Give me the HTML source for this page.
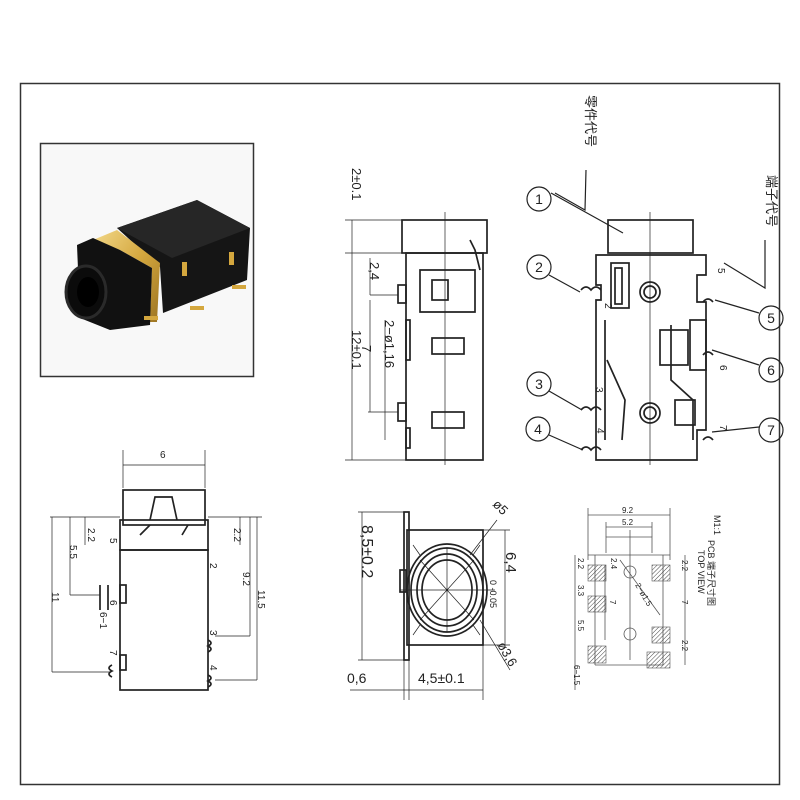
<!DOCTYPE html>
<html><head><meta charset="utf-8"><style>
html,body{margin:0;padding:0;background:#fff;}
svg{display:block;}
text{font-family:"Liberation Sans","Noto Sans CJK SC",sans-serif;fill:#222;}
</style></head><body>
<svg width="800" height="800" viewBox="0 0 800 800" xmlns="http://www.w3.org/2000/svg">
<defs>
<pattern id="h" width="3" height="3" patternUnits="userSpaceOnUse" patternTransform="rotate(45)"><line x1="0" y1="0" x2="0" y2="3" stroke="#444" stroke-width="1"/></pattern>
<linearGradient id="gold" x1="0" y1="0" x2="1" y2="1"><stop offset="0" stop-color="#f3d98a"/><stop offset="0.5" stop-color="#d4a73e"/><stop offset="1" stop-color="#9c7422"/></linearGradient>
</defs>
<rect x="20.5" y="83.5" width="759" height="701" fill="none" stroke="#333" stroke-width="1.5"/>
<rect x="40.5" y="143.5" width="213" height="233" fill="#f8f8f8" stroke="#333" stroke-width="1.5"/>
<polygon points="117,228 197,200 250,228 247,280 163,313 160,267" fill="#151515"/>
<polygon points="117,228 197,200 250,228 172,258" fill="#262626"/>
<polygon points="93,240 117,230 160,263 157,322 150,322 152,268 120,250" fill="url(#gold)"/>
<polygon points="77,245 93,238 120,250 152,268 150,325 110,330 80,318" fill="#111"/>
<ellipse cx="86" cy="292" rx="20" ry="26" fill="#0b0b0b" stroke="#2a2a2a" stroke-width="3"/>
<ellipse cx="88" cy="292" rx="11" ry="15" fill="#000"/>
<rect x="182" y="262" width="5" height="14" fill="#d4a73e"/>
<rect x="229" y="252" width="5" height="13" fill="#d4a73e"/>
<rect x="144" y="316" width="14" height="4" fill="#d4a73e"/>
<rect x="190" y="306" width="14" height="4" fill="#d4a73e"/>
<rect x="232" y="285" width="14" height="4" fill="#d4a73e"/>
<g fill="none" stroke="#222" stroke-width="1.7">
<rect x="402" y="220" width="85" height="33"/>
<rect x="406" y="253" width="77" height="207"/>
<path d="M420 270 H475 V312 H420 Z"/>
<rect x="432" y="280" width="16" height="20"/>
<rect x="432" y="338" width="32" height="16"/>
<rect x="432" y="412" width="32" height="16"/>
<rect x="398" y="285" width="8" height="18"/>
<rect x="398" y="403" width="8" height="18"/>
<rect x="406" y="320" width="4" height="40"/>
<rect x="406" y="428" width="4" height="20"/>
<path d="M470 240 L475 250 L480 270"/>
<line x1="445" y1="212" x2="445" y2="465" stroke-width="0.7"/>
<line x1="345" y1="220" x2="402" y2="220" stroke-width="0.7"/>
<line x1="345" y1="253" x2="402" y2="253" stroke-width="0.7"/>
<line x1="345" y1="460" x2="406" y2="460" stroke-width="0.7"/>
<line x1="352" y1="220" x2="352" y2="460" stroke-width="0.7"/>
<line x1="370" y1="258" x2="370" y2="295" stroke-width="0.7"/>
<line x1="370" y1="295" x2="398" y2="295" stroke-width="0.7"/>
<line x1="370" y1="300" x2="370" y2="412" stroke-width="0.7"/>
<line x1="368" y1="412" x2="398" y2="412" stroke-width="0.7"/>
<line x1="385" y1="320" x2="385" y2="440" stroke-width="0.7"/>
<rect x="608" y="220" width="85" height="33"/>
<path d="M596 255 H706 V275 H697 V302 H706 V430 H697 V460 H596 V300 H601 V285 H596 Z"/>
<rect x="611" y="263" width="18" height="45"/>
<rect x="615" y="268" width="7" height="36"/>
<circle cx="650" cy="292" r="10"/><circle cx="650" cy="292" r="6"/>
<circle cx="650" cy="413" r="10"/><circle cx="650" cy="413" r="6"/>
<rect x="660" y="330" width="28" height="35"/>
<rect x="690" y="320" width="16" height="50"/>
<path d="M605 320 V440 M607 360 L625 400 L622 440 M671 325 V380 L693 400 V440"/>
<rect x="675" y="400" width="20" height="25"/>
<line x1="650" y1="212" x2="650" y2="465" stroke-width="0.7"/>
<path d="M581 290 q5 -6 10 0 q5 -6 10 0 M581 410 q5 -6 10 0 q5 -6 10 0 M581 450 q5 -6 10 0 q5 -6 10 0 M703 302 q5 -6 10 0 M703 355 q5 -6 10 0 M703 440 q5 -6 10 0"/>
<g stroke-width="1.2">
<circle cx="539" cy="199" r="12"/><circle cx="539" cy="267" r="12"/><circle cx="539" cy="384" r="12"/><circle cx="538" cy="429" r="12"/>
<circle cx="771" cy="318" r="12"/><circle cx="771" cy="370" r="12"/><circle cx="771" cy="430" r="12"/>
<path d="M551 193 L623 233 M555 193 L585 210 L586 170 M549 275 L580 292 M549 391 L582 410 M549 435 L583 450 M759 313 L715 300 M759 365 L712 350 M759 427 L712 432 M724 263 L765 288 V240"/>
</g>
<rect x="123" y="490" width="82" height="35"/>
<rect x="120" y="520" width="88" height="30"/>
<rect x="120" y="550" width="88" height="140"/>
<path d="M150 520 L155 497 H172 L177 520 M140 535 L150 525 M188 525 L182 535"/>
<line x1="123" y1="450" x2="123" y2="488" stroke-width="0.7"/>
<line x1="205" y1="450" x2="205" y2="488" stroke-width="0.7"/>
<line x1="123" y1="465" x2="205" y2="465" stroke-width="0.7"/>
<line x1="50" y1="517" x2="120" y2="517" stroke-width="0.7"/>
<line x1="208" y1="517" x2="262" y2="517" stroke-width="0.7"/>
<line x1="52" y1="517" x2="52" y2="672" stroke-width="0.7"/>
<line x1="70" y1="517" x2="70" y2="595" stroke-width="0.7"/>
<line x1="85" y1="517" x2="85" y2="545" stroke-width="0.7"/>
<line x1="240" y1="517" x2="240" y2="545" stroke-width="0.7"/>
<line x1="250" y1="517" x2="250" y2="636" stroke-width="0.7"/>
<line x1="257" y1="517" x2="257" y2="680" stroke-width="0.7"/>
<line x1="52" y1="672" x2="110" y2="672" stroke-width="0.7"/>
<line x1="70" y1="595" x2="100" y2="595" stroke-width="0.7"/>
<line x1="215" y1="636" x2="250" y2="636" stroke-width="0.7"/>
<line x1="215" y1="680" x2="257" y2="680" stroke-width="0.7"/>
<rect x="120" y="585" width="6" height="18"/>
<rect x="120" y="655" width="6" height="15"/>
<path d="M100 585 V610 M108 585 V610 M208 640 q6 3 0 6 q6 3 0 6 M208 675 q6 3 0 6 q6 3 0 6 M112 665 q-6 3 0 6 q-6 3 0 6"/>
<rect x="407" y="530" width="76" height="115"/>
<rect x="404" y="512" width="5" height="148"/>
<rect x="400" y="570" width="6" height="22"/>
<ellipse cx="447" cy="590" rx="40" ry="46"/>
<ellipse cx="447" cy="590" rx="36" ry="42"/>
<ellipse cx="447" cy="590" rx="30" ry="36"/>
<ellipse cx="447" cy="590" rx="25" ry="30"/>
<path d="M420 560 L474 620 M474 560 L420 620 M447 548 V632 M400 590 H495 M413 545 L420 555 M480 545 L473 555 M413 635 L420 625 M480 635 L473 625" stroke-width="0.7"/>
<line x1="358" y1="512" x2="404" y2="512" stroke-width="0.7"/>
<line x1="358" y1="660" x2="404" y2="660" stroke-width="0.7"/>
<line x1="362" y1="512" x2="362" y2="660" stroke-width="0.7"/>
<line x1="483" y1="530" x2="510" y2="530" stroke-width="0.7"/>
<line x1="483" y1="645" x2="510" y2="645" stroke-width="0.7"/>
<line x1="505" y1="530" x2="505" y2="645" stroke-width="0.7"/>
<line x1="404" y1="660" x2="404" y2="700" stroke-width="0.7"/>
<line x1="409" y1="660" x2="409" y2="700" stroke-width="0.7"/>
<line x1="483" y1="645" x2="483" y2="700" stroke-width="0.7"/>
<line x1="350" y1="690" x2="483" y2="690" stroke-width="0.7"/>
<path d="M470 555 L497 520 M480 620 L510 670" stroke-width="0.7"/>
<g stroke="#555" stroke-width="0.8">
<line x1="588" y1="508" x2="588" y2="560"/><line x1="670" y1="508" x2="670" y2="560"/>
<line x1="588" y1="515" x2="670" y2="515"/>
<line x1="606" y1="522" x2="606" y2="537"/><line x1="652" y1="522" x2="652" y2="537"/>
<line x1="606" y1="527" x2="652" y2="527"/>
<path d="M606 553 V537 H652 V553"/>
<path d="M588 555 H670 M595 555 V665 M663 555 V665 M595 665 H663"/>
<circle cx="630" cy="572" r="6"/><circle cx="630" cy="634" r="6"/>
<line x1="630" y1="530" x2="630" y2="660"/>
<path d="M575 555 V690 M605 565 V640 M685 555 V665 M620 560 L660 615"/>
</g>
</g>
<g stroke="#555" stroke-width="0.6" fill="url(#h)">
<rect x="588" y="565" width="18" height="16"/>
<rect x="588" y="596" width="18" height="16"/>
<rect x="588" y="646" width="18" height="17"/>
<rect x="652" y="565" width="18" height="16"/>
<rect x="652" y="627" width="18" height="16"/>
<rect x="647" y="652" width="23" height="16"/>
</g>
<g font-size="13">
<text transform="translate(352,168) rotate(90)">2±0.1</text>
<text transform="translate(370,262) rotate(90)">2,4</text>
<text transform="translate(352,330) rotate(90)">12±0.1</text>
<text transform="translate(362,345) rotate(90)">7</text>
<text transform="translate(385,320) rotate(90)">2−ø1,16</text>
<text transform="translate(362,525) rotate(90)" font-size="16">8,5±0.2</text>
<text transform="translate(506,552) rotate(90)" font-size="15">6,4</text>
<text transform="translate(490,580) rotate(90)" font-size="9">0 -0.05</text>
<text transform="translate(492,505) rotate(45)" font-size="13">ø5</text>
<text transform="translate(497,645) rotate(60)" font-size="13">ø3,6</text>
<text x="347" y="683" font-size="14">0,6</text>
<text x="418" y="683" font-size="14">4,5±0.1</text>
</g>
<g font-size="14" font-family="Liberation Serif,serif">
<text x="539" y="204" text-anchor="middle">1</text><text x="539" y="272" text-anchor="middle">2</text>
<text x="539" y="389" text-anchor="middle">3</text><text x="538" y="434" text-anchor="middle">4</text>
<text x="771" y="323" text-anchor="middle">5</text><text x="771" y="375" text-anchor="middle">6</text>
<text x="771" y="435" text-anchor="middle">7</text>
</g>
<g font-size="10">
<text transform="translate(605,303) rotate(90)">2</text>
<text transform="translate(596,387) rotate(90)">3</text>
<text transform="translate(597,428) rotate(90)">4</text>
<text transform="translate(718,268) rotate(90)">5</text>
<text transform="translate(720,365) rotate(90)">6</text>
<text transform="translate(720,425) rotate(90)">7</text>
<text x="160" y="458">6</text>
<text transform="translate(88,528) rotate(90)">2.2</text>
<text transform="translate(70,545) rotate(90)">5.5</text>
<text transform="translate(52,592) rotate(90)">11</text>
<text transform="translate(234,528) rotate(90)">2.2</text>
<text transform="translate(243,572) rotate(90)">9.2</text>
<text transform="translate(258,590) rotate(90)">11.5</text>
<text transform="translate(110,538) rotate(90)">5</text>
<text transform="translate(210,563) rotate(90)">2</text>
<text transform="translate(110,600) rotate(90)">6</text>
<text transform="translate(100,612) rotate(90)">6−1</text>
<text transform="translate(210,630) rotate(90)">3</text>
<text transform="translate(210,665) rotate(90)">4</text>
<text transform="translate(110,650) rotate(90)">7</text>
</g>
<g font-size="8" fill="#555">
<text x="622" y="513">9.2</text><text x="622" y="525">5.2</text>
<text transform="translate(578,558) rotate(90)">2.2</text>
<text transform="translate(578,585) rotate(90)">3.3</text>
<text transform="translate(578,620) rotate(90)">5.5</text>
<text transform="translate(574,665) rotate(90)">6−1.5</text>
<text transform="translate(682,560) rotate(90)">2.2</text>
<text transform="translate(682,600) rotate(90)">7</text>
<text transform="translate(682,640) rotate(90)">2.2</text>
<text transform="translate(610,600) rotate(90)">7</text>
<text transform="translate(635,585) rotate(60)">2−ø1.5</text>
<text transform="translate(611,558) rotate(90)">2.4</text>
<text transform="translate(714,515) rotate(90)" font-size="9">M1:1</text>
<text transform="translate(708,540) rotate(90)" font-size="9">PCB 端子尺寸图</text>
<text transform="translate(698,550) rotate(90)" font-size="9">TOP VIEW</text>
</g>
<g font-size="13" font-family="Noto Serif CJK SC, serif">
<text transform="translate(586,95) rotate(90)">零件代号</text>
<text transform="translate(767,175) rotate(90)">端子代号</text>
</g>
</svg>
</body></html>
